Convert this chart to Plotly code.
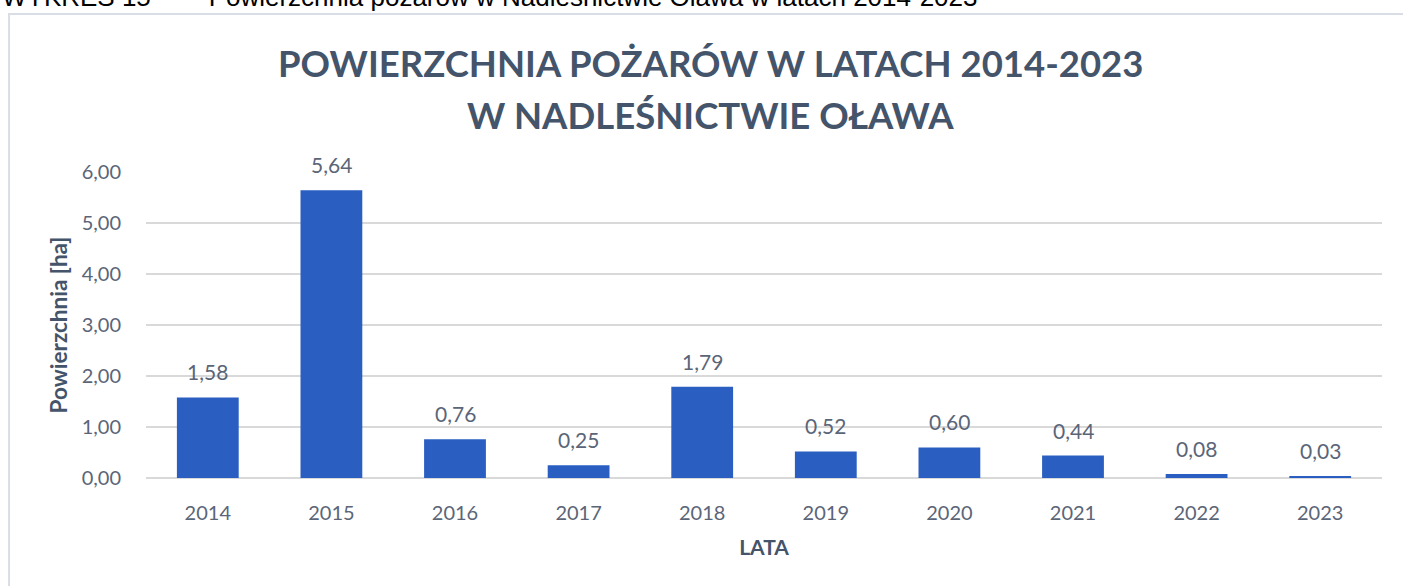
import plotly.graph_objects as go

years = ["2014", "2015", "2016", "2017", "2018", "2019", "2020", "2021", "2022", "2023"]
area_ha = [1.58, 5.64, 0.76, 0.25, 1.79, 0.52, 0.60, 0.44, 0.08, 0.03]
y_ticks = [0, 1, 2, 3, 4, 5, 6]
y_tick_labels = ["0,00", "1,00", "2,00", "3,00", "4,00", "5,00", "6,00"]
labels = [f"{v:.2f}".replace(".", ",") for v in area_ha]

title_line1 = "POWIERZCHNIA POŻARÓW W LATACH 2014-2023"
title_line2 = "W NADLEŚNICTWIE OŁAWA"
caption_text = "WYKRES 15   –   Powierzchnia pożarów w Nadleśnictwie Oława w latach 2014-2023"

TXT = "#44546A"
TICK = "#5B6578"
FONT = "Lato"

fig = go.Figure()
fig.add_trace(go.Bar(
    x=years, y=area_ha,
    marker=dict(color="#2A5EC0", line=dict(width=0)),
    hoverinfo="x+y",
))

for i, (v, lab) in enumerate(zip(area_ha, labels)):
    fig.add_annotation(x=i, y=v, xref="x", yref="y", text=lab, showarrow=False, yanchor="bottom",
                       yshift=11, font=dict(family=FONT, size=21, color=TICK))

fig.add_annotation(xref="paper", yref="paper", x=-0.118, y=1.516, xanchor="left", yanchor="bottom",
                   text=caption_text, showarrow=False,
                   font=dict(family="Liberation Sans", size=26, color="#000000"))

# two-line chart title
for txt, ypx in [(title_line1, 63), (title_line2, 115)]:
    fig.add_annotation(xref="paper", yref="paper", x=(710 - 146) / 1236, y=1 + (172 - ypx) / 306,
                       xanchor="center", yanchor="middle", text=txt, showarrow=False,
                       font=dict(family=FONT, size=36.5, color=TXT, weight="bold"))

# chart border
fig.add_shape(type="rect", xref="paper", yref="paper", x0=-0.1108, x1=1.03, y0=-0.40, y1=1.516,
              line=dict(color="#D9DEE6", width=2), fillcolor="rgba(0,0,0,0)", layer="below")

fig.update_layout(
    width=1403, height=586,
    margin=dict(l=146, r=21, t=172, b=108),
    paper_bgcolor="white", plot_bgcolor="white",
    bargap=0.5,
    showlegend=False,
    xaxis=dict(
        type="category", range=[-0.5, 9.5],
        showgrid=False, showline=False, ticks="outside", ticklen=17, tickcolor="rgba(0,0,0,0)",
        tickfont=dict(family=FONT, size=20, color=TICK),
        title=dict(text="LATA", font=dict(family=FONT, size=21, color=TXT, weight="bold"), standoff=17),
    ),
    yaxis=dict(
        range=[0, 6], tickvals=y_ticks, ticktext=y_tick_labels,
        showgrid=True, gridcolor="#D9D9D9", gridwidth=1.5,
        zeroline=True, zerolinecolor="#D9D9D9", zerolinewidth=1.5,
        ticks="outside", ticklen=20, tickcolor="rgba(0,0,0,0)",
        tickfont=dict(family=FONT, size=20, color=TICK),
        title=dict(text="Powierzchnia [ha]", font=dict(family=FONT, size=22.5, color=TXT, weight="bold"), standoff=7),
    ),
)

fig.write_html("out.html", config={"displayModeBar": False},
               post_script="document.body.style.margin='0';")
